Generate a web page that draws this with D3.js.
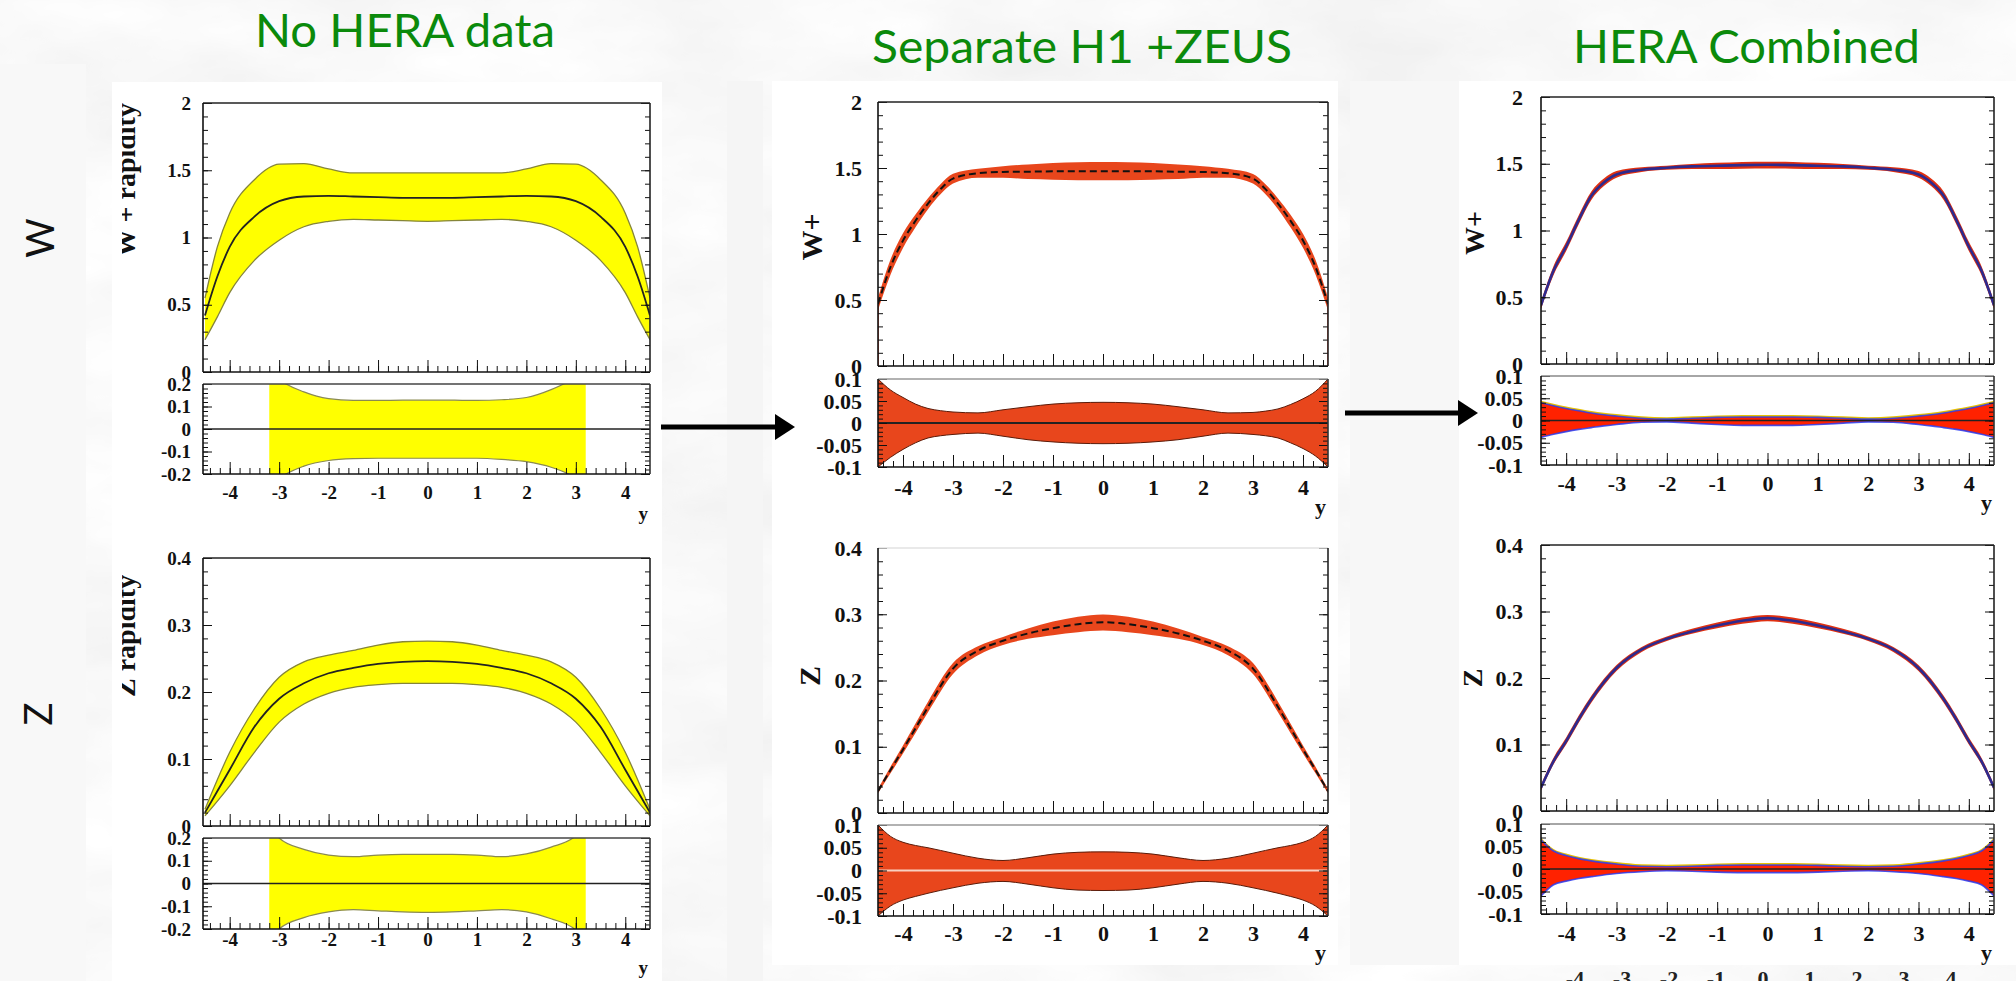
<!DOCTYPE html>
<html><head><meta charset="utf-8">
<script src="https://cdn.jsdelivr.net/npm/d3@7"></script>
<style>body{margin:0;background:#ebebeb;overflow:hidden}</style>
</head><body>
<svg id="c" width="2016" height="981"></svg>
<script>
// ---------------- DATA ----------------
const titles = ["No HERA data", "Separate H1 +ZEUS", "HERA Combined"];
const rowLabels = ["W", "Z"];
const yAxisTitlesLeft = ["W + rapidity", "Z rapidity"];
const yAxisTitlesOther = ["W+", "Z"];
const xTitle = "y";
const xTicks = [-4, -3, -2, -1, 0, 1, 2, 3, 4];
const wTicks = [0, 0.5, 1, 1.5, 2];
const zTicks = [0, 0.1, 0.2, 0.3, 0.4];
const ratioTicksWide = [-0.2, -0.1, 0, 0.1, 0.2];
const ratioTicksNarrow = [-0.1, -0.05, 0, 0.05, 0.1];

// No HERA data : W+
const noHeraW_x = [-4.5,-4.25,-4,-3.5,-3,-2.5,-2,-1.5,-1,-0.5,0,0.5,1,1.5,2,2.5,3,3.5,4,4.25,4.5];
const noHeraW_central = [0.42,0.71,0.93,1.155,1.27,1.305,1.31,1.305,1.30,1.295,1.295,1.295,1.30,1.305,1.31,1.305,1.27,1.155,0.93,0.71,0.42];
const noHeraW_upper = [0.55,0.93,1.18,1.43,1.545,1.55,1.51,1.48,1.48,1.48,1.48,1.48,1.48,1.48,1.51,1.55,1.545,1.43,1.18,0.93,0.55];
const noHeraW_lower = [0.24,0.41,0.59,0.83,0.98,1.08,1.12,1.135,1.13,1.125,1.12,1.125,1.13,1.135,1.12,1.08,0.98,0.83,0.59,0.41,0.24];
const noHera_ratioX = [-3.2,-3,-2.5,-2,-1.5,-1,-0.5,0,0.5,1,1.5,2,2.5,3,3.2];
const noHeraW_ratioUp = [0.26,0.22,0.165,0.135,0.127,0.127,0.128,0.128,0.128,0.127,0.13,0.14,0.175,0.23,0.26];
const noHeraW_ratioLo = [-0.26,-0.22,-0.165,-0.14,-0.132,-0.13,-0.13,-0.13,-0.13,-0.13,-0.135,-0.145,-0.17,-0.22,-0.26];

// No HERA data : Z
const noHeraZ_x = [-4.5,-4,-3.5,-3,-2.5,-2,-1.5,-1,-0.5,0,0.5,1,1.5,2,2.5,3,3.5,4,4.5];
const noHeraZ_central = [0.02,0.084,0.148,0.19,0.213,0.228,0.236,0.242,0.245,0.246,0.245,0.242,0.236,0.228,0.213,0.19,0.148,0.084,0.02];
const noHeraZ_upper = [0.025,0.11,0.175,0.222,0.245,0.255,0.262,0.27,0.275,0.276,0.275,0.27,0.262,0.255,0.245,0.222,0.175,0.11,0.025];
const noHeraZ_lower = [0.015,0.06,0.11,0.155,0.182,0.198,0.207,0.211,0.213,0.213,0.213,0.211,0.207,0.198,0.182,0.155,0.11,0.06,0.015];
const noHeraZ_ratioUp = [0.26,0.2,0.15,0.125,0.118,0.125,0.128,0.128,0.128,0.125,0.118,0.13,0.16,0.21,0.26];
const noHeraZ_ratioLo = [-0.26,-0.2,-0.15,-0.125,-0.115,-0.12,-0.125,-0.127,-0.125,-0.12,-0.115,-0.125,-0.155,-0.205,-0.26];

// Separate H1 + ZEUS : W+
const sepW_x = [-4.5,-4.25,-4,-3.75,-3.5,-3.25,-3,-2.5,-2,-1.5,-1,-0.5,0,0.5,1,1.5,2,2.5,3,3.25,3.5,3.75,4,4.25,4.5];
const sepW_central = [0.47,0.75,0.95,1.1,1.23,1.34,1.42,1.46,1.47,1.472,1.475,1.476,1.476,1.476,1.475,1.472,1.47,1.46,1.42,1.34,1.23,1.1,0.95,0.75,0.47];
const sepW_ratioUp = [0.1,0.075,0.058,0.043,0.033,0.028,0.025,0.023,0.03,0.037,0.043,0.046,0.047,0.046,0.043,0.037,0.03,0.023,0.024,0.027,0.032,0.042,0.055,0.072,0.1];
const sepW_ratioLo = [-0.1,-0.078,-0.06,-0.045,-0.034,-0.029,-0.026,-0.023,-0.03,-0.038,-0.043,-0.046,-0.047,-0.046,-0.043,-0.038,-0.03,-0.023,-0.026,-0.029,-0.034,-0.045,-0.058,-0.075,-0.1];

// Separate H1 + ZEUS : Z
const sepZ_x = [-4.5,-4.25,-4,-3.75,-3.5,-3,-2.5,-2,-1.5,-1,-0.5,0,0.5,1,1.5,2,2.5,3,3.5,3.75,4,4.25,4.5];
const sepZ_central = [0.033,0.065,0.096,0.128,0.16,0.218,0.245,0.26,0.271,0.279,0.285,0.288,0.285,0.279,0.271,0.26,0.245,0.218,0.16,0.128,0.096,0.065,0.033];
const sepZ_ratioUp = [0.1,0.075,0.062,0.055,0.05,0.038,0.027,0.022,0.028,0.036,0.04,0.041,0.04,0.036,0.028,0.022,0.027,0.038,0.05,0.055,0.062,0.075,0.1];
const sepZ_ratioLo = [-0.1,-0.078,-0.065,-0.057,-0.05,-0.038,-0.028,-0.024,-0.03,-0.038,-0.043,-0.044,-0.043,-0.038,-0.03,-0.024,-0.028,-0.038,-0.05,-0.057,-0.065,-0.078,-0.1];

// HERA combined : W+
const combW_x = [-4.5,-4.25,-4,-3.75,-3.5,-3.25,-3,-2.5,-2,-1.5,-1,-0.5,0,0.5,1,1.5,2,2.5,3,3.25,3.5,3.75,4,4.25,4.5];
const combW_central = [0.44,0.7,0.88,1.08,1.26,1.36,1.42,1.455,1.47,1.48,1.485,1.49,1.492,1.49,1.485,1.48,1.47,1.455,1.42,1.36,1.26,1.08,0.88,0.7,0.44];
const combW_ratioUp = [0.04,0.033,0.027,0.022,0.017,0.013,0.01,0.005,0.003,0.005,0.007,0.008,0.008,0.008,0.007,0.005,0.003,0.005,0.01,0.013,0.017,0.022,0.027,0.033,0.04];
const combW_ratioLo = [-0.038,-0.031,-0.025,-0.02,-0.016,-0.012,-0.009,-0.004,-0.003,-0.006,-0.009,-0.011,-0.011,-0.011,-0.009,-0.006,-0.003,-0.004,-0.009,-0.012,-0.016,-0.02,-0.025,-0.031,-0.038];

// HERA combined : Z
const combZ_x = [-4.5,-4.25,-4,-3.75,-3.5,-3,-2.5,-2,-1.5,-1,-0.5,0,0.5,1,1.5,2,2.5,3,3.5,3.75,4,4.25,4.5];
const combZ_central = [0.035,0.075,0.105,0.138,0.168,0.215,0.243,0.259,0.27,0.279,0.286,0.29,0.286,0.279,0.27,0.259,0.243,0.215,0.168,0.138,0.105,0.075,0.035];
const combZ_ratioUp = [0.065,0.04,0.03,0.023,0.018,0.011,0.006,0.005,0.006,0.008,0.009,0.009,0.009,0.008,0.006,0.005,0.006,0.011,0.018,0.023,0.03,0.04,0.065];
const combZ_ratioLo = [-0.06,-0.035,-0.027,-0.021,-0.017,-0.01,-0.006,-0.004,-0.005,-0.007,-0.008,-0.008,-0.008,-0.007,-0.005,-0.004,-0.006,-0.01,-0.017,-0.021,-0.027,-0.035,-0.06];

// ---------------- DRAWING ----------------
const svg = d3.select('#c');
const defs = svg.append('defs');
const serif = "'Liberation Serif', 'DejaVu Serif', serif";
const sans = "Lato, 'Open Sans', sans-serif";

// marble-like background
const flt = defs.append('filter').attr('id', 'marble').attr('x', 0).attr('y', 0).attr('width', 1).attr('height', 1);
flt.append('feTurbulence').attr('type', 'fractalNoise').attr('baseFrequency', '0.004 0.009').attr('numOctaves', 5).attr('seed', 7);
flt.append('feColorMatrix').attr('type', 'matrix')
  .attr('values', '0.22 0 0 0 0.83  0.22 0 0 0 0.83  0.22 0 0 0 0.83  0 0 0 0 1');
svg.append('rect').attr('width', 2016).attr('height', 981).attr('filter', 'url(#marble)');

// light / white areas behind the plots
const areas = [
  [0, 64, 86, 917, '#f8f8f8'], [112, 82, 550, 899, '#ffffff'],
  [727, 81, 36, 900, '#f5f5f5'], [772, 81, 566, 884, '#ffffff'],
  [1350, 81, 109, 884, '#f7f7f7'], [1459, 81, 557, 884, '#ffffff']
];
svg.selectAll('rect.bgp').data(areas).join('rect').attr('class', 'bgp')
  .attr('x', d => d[0]).attr('y', d => d[1]).attr('width', d => d[2]).attr('height', d => d[3]).attr('fill', d => d[4]);

// titles
const titlePos = [[255, 47, 300], [872, 63, 420], [1573, 63, 347]];
svg.selectAll('text.title').data(titles).join('text').attr('class', 'title')
  .attr('x', (d, i) => titlePos[i][0]).attr('y', (d, i) => titlePos[i][1])
  .attr('textLength', (d, i) => titlePos[i][2]).attr('lengthAdjust', 'spacingAndGlyphs')
  .attr('font-family', sans).attr('font-size', 47).attr('fill', '#0b8a0b').text(d => d);

// row labels W / Z
const rowPos = [[54, 238], [52, 714]];
svg.selectAll('text.row').data(rowLabels).join('text').attr('class', 'row')
  .attr('transform', (d, i) => `translate(${rowPos[i][0]},${rowPos[i][1]}) rotate(-90)`)
  .attr('text-anchor', 'middle').attr('font-family', sans).attr('font-size', 38).attr('fill', '#111').text(d => d);

// arrows
function arrow(x0, x1, y) {
  svg.append('line').attr('x1', x0).attr('x2', x1 - 18).attr('y1', y).attr('y2', y).attr('stroke', '#000').attr('stroke-width', 5);
  svg.append('path').attr('d', `M${x1 - 20},${y - 13}L${x1},${y}L${x1 - 20},${y + 13}Z`).attr('fill', '#000');
}
arrow(661, 795, 427);
arrow(1345, 1478, 413);

const curve = d3.curveMonotoneX;
const zip = (xs, ...cols) => xs.map((x, i) => ({x, v: cols.map(c => c[i])}));

function styleAxis(g, fs) {
  g.select('.domain').remove();
  g.attr('font-family', null).attr('font-size', null);
  g.selectAll('line').attr('stroke', '#111').attr('stroke-width', 1);
  g.selectAll('text').attr('font-family', serif).attr('font-weight', 'bold')
    .attr('font-size', fs).attr('fill', '#111');
}

let pid = 0;
function drawPanel(o) {
  const id = 'p' + (pid++);
  const x = d3.scaleLinear().domain(o.xDomain).range([o.x0, o.x1]);
  const y = d3.scaleLinear().domain([0, o.ymax]).range([o.yb, o.yt]);
  const r = d3.scaleLinear().domain([-o.rmax, o.rmax]).range([o.rb, o.rt]);
  defs.append('clipPath').attr('id', id + 't').append('rect')
    .attr('x', o.x0).attr('y', o.yt).attr('width', o.x1 - o.x0).attr('height', o.yb - o.yt);
  defs.append('clipPath').attr('id', id + 'r').append('rect')
    .attr('x', o.x0).attr('y', o.rt).attr('width', o.x1 - o.x0).attr('height', o.rb - o.rt);
  const top = svg.append('g').attr('clip-path', `url(#${id}t)`);
  const rat = svg.append('g').attr('clip-path', `url(#${id}r)`);
  o.drawTop(top, x, y);
  o.drawRatio(rat, x, r);

  const yMinor = d3.range(0, o.ymax + 1e-9, o.yMinor);
  const rMinor = d3.range(-o.rmax, o.rmax + 1e-9, o.rMinor);
  const xMinor = d3.range(-4.4, 4.5, 0.2);
  const fmt = d => String(d);
  const ax = (gen, tx, ty) => svg.append('g').attr('transform', `translate(${tx},${ty})`).call(gen);

  styleAxis(ax(d3.axisLeft(y).tickValues(o.yTicks).tickSize(-9).tickPadding(o.ypad).tickFormat(fmt), o.x0, 0), o.fs);
  styleAxis(ax(d3.axisLeft(y).tickValues(yMinor).tickSize(-5).tickFormat(''), o.x0, 0), o.fs);
  styleAxis(ax(d3.axisRight(y).tickValues(o.yTicks).tickSize(-9).tickFormat(''), o.x1, 0), o.fs);
  styleAxis(ax(d3.axisRight(y).tickValues(yMinor).tickSize(-5).tickFormat(''), o.x1, 0), o.fs);
  styleAxis(ax(d3.axisBottom(x).tickValues(xTicks).tickSize(-12).tickFormat(''), 0, o.yb), o.fs);
  styleAxis(ax(d3.axisBottom(x).tickValues(xMinor).tickSize(-6).tickFormat(''), 0, o.yb), o.fs);
  styleAxis(ax(d3.axisLeft(r).tickValues(o.rTicks).tickSize(-9).tickPadding(o.ypad).tickFormat(fmt), o.x0, 0), o.fs);
  styleAxis(ax(d3.axisLeft(r).tickValues(rMinor).tickSize(-5).tickFormat(''), o.x0, 0), o.fs);
  styleAxis(ax(d3.axisRight(r).tickValues(o.rTicks).tickSize(-9).tickFormat(''), o.x1, 0), o.fs);
  styleAxis(ax(d3.axisRight(r).tickValues(rMinor).tickSize(-5).tickFormat(''), o.x1, 0), o.fs);
  styleAxis(ax(d3.axisBottom(x).tickValues(xTicks).tickSize(-12).tickPadding(o.xpad).tickFormat(fmt), 0, o.rb), o.fs);
  styleAxis(ax(d3.axisBottom(x).tickValues(xMinor).tickSize(-6).tickFormat(''), 0, o.rb), o.fs);

  const fr = (x0, y0, x1, y1, c) => svg.append('line').attr('x1', x0).attr('y1', y0).attr('x2', x1).attr('y2', y1)
    .attr('stroke', c).attr('stroke-width', 1.6);
  fr(o.x0, o.yt, o.x1, o.yt, o.topFrame || '#222');
  fr(o.x0, o.yb, o.x1, o.yb, '#111');
  fr(o.x0, o.yt, o.x0, o.yb, '#111');
  fr(o.x1, o.yt, o.x1, o.yb, '#222');
  fr(o.x0, o.rt, o.x1, o.rt, o.ratioTopFrame || '#444');
  fr(o.x0, o.rb, o.x1, o.rb, '#111');
  fr(o.x0, o.rt, o.x0, o.rb, '#111');
  fr(o.x1, o.rt, o.x1, o.rb, '#333');

  svg.append('text').attr('x', o.x1 - 2).attr('y', o.xTitleY).attr('text-anchor', 'end')
    .attr('font-family', serif).attr('font-weight', 'bold').attr('font-size', o.fs).attr('fill', '#111').text(xTitle);

  const yt = svg.append('g');
  if (o.yTitleClip) {
    defs.append('clipPath').attr('id', id + 'y').append('rect')
      .attr('x', o.yTitleClip).attr('y', 0).attr('width', 100).attr('height', 981);
    yt.attr('clip-path', `url(#${id}y)`);
  }
  yt.append('text').attr('transform', `translate(${o.yTitleX},${o.yTitleY}) rotate(-90)`)
    .attr('text-anchor', o.yTitleAnchor).attr('font-family', serif).attr('font-weight', 'bold')
    .attr('font-size', o.yTitleFs).attr('fill', '#111').text(o.yTitle);
}

function noHeraTop(xs, c, up, lo) {
  return (g, x, y) => {
    const d = zip(xs, c, up, lo);
    g.append('path').datum(d).attr('fill', '#ffff00')
      .attr('d', d3.area().curve(curve).x(p => x(p.x)).y0(p => y(p.v[2])).y1(p => y(p.v[1])));
    [1, 2].forEach(k => g.append('path').datum(d).attr('fill', 'none').attr('stroke', '#85853a').attr('stroke-width', 1.3)
      .attr('d', d3.line().curve(curve).x(p => x(p.x)).y(p => y(p.v[k]))));
    g.append('path').datum(d).attr('fill', 'none').attr('stroke', '#222').attr('stroke-width', 1.8)
      .attr('d', d3.line().curve(curve).x(p => x(p.x)).y(p => y(p.v[0])));
  };
}
function noHeraRatio(xs, up, lo) {
  return (g, x, r) => {
    const d = zip(xs, up, lo);
    g.append('path').datum(d).attr('fill', '#ffff00')
      .attr('d', d3.area().curve(curve).x(p => x(p.x)).y0(p => r(p.v[1])).y1(p => r(p.v[0])));
    [0, 1].forEach(k => g.append('path').datum(d).attr('fill', 'none').attr('stroke', '#8a8a50').attr('stroke-width', 1.2)
      .attr('d', d3.line().curve(curve).x(p => x(p.x)).y(p => r(p.v[k]))));
    g.append('line').attr('x1', x.range()[0]).attr('x2', x.range()[1]).attr('y1', r(0)).attr('y2', r(0))
      .attr('stroke', '#222').attr('stroke-width', 1.5);
  };
}
function sepTop(xs, c, up, lo, edgeLines) {
  return (g, x, y) => {
    const d = zip(xs, c, up, lo);
    g.append('path').datum(d).attr('fill', '#e8461c')
      .attr('d', d3.area().curve(curve).x(p => x(p.x)).y0(p => y(p.v[0] * (1 + p.v[2]))).y1(p => y(p.v[0] * (1 + p.v[1]))));
    g.append('path').datum(d).attr('fill', 'none').attr('stroke', '#111').attr('stroke-width', 2)
      .attr('stroke-dasharray', '7,4')
      .attr('d', d3.line().curve(curve).x(p => x(p.x)).y(p => y(p.v[0])));
    if (edgeLines) {
      [d[0], d[d.length - 1]].forEach(p => g.append('line').attr('x1', x(p.x)).attr('x2', x(p.x))
        .attr('y1', y(0)).attr('y2', y(p.v[0])).attr('stroke', '#ff3a20').attr('stroke-width', 1.5));
    }
  };
}
function sepRatio(xs, up, lo, zeroColor) {
  return (g, x, r) => {
    const d = zip(xs, up, lo);
    g.append('path').datum(d).attr('fill', '#e8461c')
      .attr('d', d3.area().curve(curve).x(p => x(p.x)).y0(p => r(p.v[1])).y1(p => r(p.v[0])));
    [0, 1].forEach(k => g.append('path').datum(d).attr('fill', 'none').attr('stroke', '#5a1a08').attr('stroke-width', 1)
      .attr('d', d3.line().curve(curve).x(p => x(p.x)).y(p => r(p.v[k]))));
    g.append('line').attr('x1', x.range()[0]).attr('x2', x.range()[1]).attr('y1', r(0)).attr('y2', r(0))
      .attr('stroke', zeroColor).attr('stroke-width', 2);
  };
}
function combTop(xs, c, up, lo) {
  return (g, x, y) => {
    const d = zip(xs, c, up, lo);
    g.append('path').datum(d).attr('fill', '#e03010')
      .attr('d', d3.area().curve(curve).x(p => x(p.x)).y0(p => y(p.v[0] * (1 + p.v[2])) + 1.5).y1(p => y(p.v[0] * (1 + p.v[1])) - 1.5));
    g.append('path').datum(d).attr('fill', 'none').attr('stroke', '#2d2a8e').attr('stroke-width', 2.6)
      .attr('d', d3.line().curve(curve).x(p => x(p.x)).y(p => y(p.v[0])));
  };
}
function combRatio(xs, up, lo) {
  return (g, x, r) => {
    const d = zip(xs, up, lo);
    g.append('path').datum(d).attr('fill', '#e8c000')
      .attr('d', d3.area().curve(curve).x(p => x(p.x)).y0(p => r(p.v[1] * 0.4)).y1(p => r(p.v[0]) - 2));
    g.append('path').datum(d).attr('fill', '#ff2200')
      .attr('d', d3.area().curve(curve).x(p => x(p.x)).y0(p => r(p.v[1])).y1(p => r(p.v[0])));
    [0, 1].forEach(k => g.append('path').datum(d).attr('fill', 'none').attr('stroke', '#2a3cf0').attr('stroke-width', 1.6)
      .attr('stroke-opacity', 0.85)
      .attr('d', d3.line().curve(curve).x(p => x(p.x)).y(p => r(p.v[k]))));
    g.append('line').attr('x1', x.range()[0]).attr('x2', x.range()[1]).attr('y1', r(0)).attr('y2', r(0))
      .attr('stroke', '#222').attr('stroke-width', 1.3);
  };
}

const panels = [
  {xDomain: [-4.54, 4.5], x0: 203, x1: 650, yt: 103, yb: 372, rt: 384, rb: 474,
   ymax: 2, yTicks: wTicks, yMinor: 0.1, rmax: 0.2, rTicks: ratioTicksWide, rMinor: 0.02,
   fs: 19, ypad: 12, xpad: 12, xTitleY: 520,
   yTitle: yAxisTitlesLeft[0], yTitleX: 135, yTitleY: 257, yTitleAnchor: 'start', yTitleFs: 28, yTitleClip: 122,
   drawTop: noHeraTop(noHeraW_x, noHeraW_central, noHeraW_upper, noHeraW_lower),
   drawRatio: noHeraRatio(noHera_ratioX, noHeraW_ratioUp, noHeraW_ratioLo)},
  {xDomain: [-4.54, 4.5], x0: 203, x1: 650, yt: 558, yb: 826, rt: 838, rb: 929,
   ymax: 0.4, yTicks: zTicks, yMinor: 0.02, rmax: 0.2, rTicks: ratioTicksWide, rMinor: 0.02,
   fs: 19, ypad: 12, xpad: 4, xTitleY: 974,
   yTitle: yAxisTitlesLeft[1], yTitleX: 135, yTitleY: 697, yTitleAnchor: 'start', yTitleFs: 28, yTitleClip: 122,
   drawTop: noHeraTop(noHeraZ_x, noHeraZ_central, noHeraZ_upper, noHeraZ_lower),
   drawRatio: noHeraRatio(noHera_ratioX, noHeraZ_ratioUp, noHeraZ_ratioLo)},
  {xDomain: [-4.5, 4.5], x0: 878, x1: 1328, yt: 102, yb: 366, rt: 379, rb: 467,
   ymax: 2, yTicks: wTicks, yMinor: 0.1, rmax: 0.1, rTicks: ratioTicksNarrow, rMinor: 0.01,
   fs: 22, ypad: 16, xpad: 12, xTitleY: 514, ratioTopFrame: '#999',
   yTitle: yAxisTitlesOther[0], yTitleX: 822, yTitleY: 237, yTitleAnchor: 'middle', yTitleFs: 30,
   drawTop: sepTop(sepW_x, sepW_central, sepW_ratioUp, sepW_ratioLo, true),
   drawRatio: sepRatio(sepW_x, sepW_ratioUp, sepW_ratioLo, '#222')},
  {xDomain: [-4.5, 4.5], x0: 878, x1: 1328, yt: 548, yb: 813, rt: 825, rb: 916,
   ymax: 0.4, yTicks: zTicks, yMinor: 0.02, rmax: 0.1, rTicks: ratioTicksNarrow, rMinor: 0.01,
   fs: 22, ypad: 16, xpad: 9, xTitleY: 960, topFrame: '#e2e2e2', ratioTopFrame: '#999',
   yTitle: yAxisTitlesOther[1], yTitleX: 820, yTitleY: 676, yTitleAnchor: 'middle', yTitleFs: 30,
   drawTop: sepTop(sepZ_x, sepZ_central, sepZ_ratioUp, sepZ_ratioLo, false),
   drawRatio: sepRatio(sepZ_x, sepZ_ratioUp, sepZ_ratioLo, '#f8d0c0')},
  {xDomain: [-4.5, 4.5], x0: 1541, x1: 1994, yt: 97, yb: 364, rt: 376, rb: 465,
   ymax: 2, yTicks: wTicks, yMinor: 0.1, rmax: 0.1, rTicks: ratioTicksNarrow, rMinor: 0.01,
   fs: 22, ypad: 18, xpad: 10, xTitleY: 510, ratioTopFrame: '#888',
   yTitle: yAxisTitlesOther[0], yTitleX: 1484, yTitleY: 233, yTitleAnchor: 'middle', yTitleFs: 28,
   drawTop: combTop(combW_x, combW_central, combW_ratioUp, combW_ratioLo),
   drawRatio: combRatio(combW_x, combW_ratioUp, combW_ratioLo)},
  {xDomain: [-4.5, 4.5], x0: 1541, x1: 1994, yt: 545, yb: 811, rt: 824, rb: 914,
   ymax: 0.4, yTicks: zTicks, yMinor: 0.02, rmax: 0.1, rTicks: ratioTicksNarrow, rMinor: 0.01,
   fs: 22, ypad: 18, xpad: 11, xTitleY: 960, ratioTopFrame: '#888',
   yTitle: yAxisTitlesOther[1], yTitleX: 1482, yTitleY: 678, yTitleAnchor: 'middle', yTitleFs: 28,
   drawTop: combTop(combZ_x, combZ_central, combZ_ratioUp, combZ_ratioLo),
   drawRatio: combRatio(combZ_x, combZ_ratioUp, combZ_ratioLo)}
];
panels.forEach(drawPanel);

// cut-off tick labels peeking at the very bottom of the right column
const xb = d3.scaleLinear().domain([-4, 4]).range([1575, 1951]);
svg.selectAll('text.cut').data(xTicks).join('text').attr('class', 'cut')
  .attr('x', d => xb(d)).attr('y', 986).attr('text-anchor', 'middle')
  .attr('font-family', serif).attr('font-weight', 'bold').attr('font-size', 22).attr('fill', '#222').text(d => d);
</script>
</body></html>
